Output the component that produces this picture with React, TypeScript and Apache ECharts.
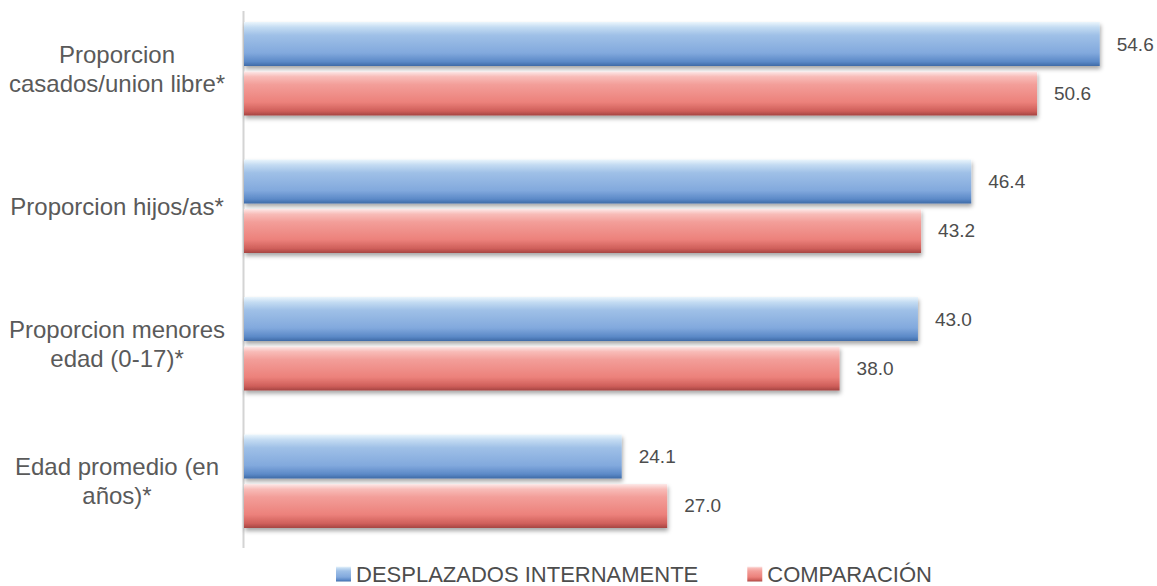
import React, { useEffect, useRef } from "react";
import * as echarts from "echarts";

const categories = [
  "Proporcion\ncasados/union libre*",
  "Proporcion hijos/as*",
  "Proporcion menores\nedad (0-17)*",
  "Edad promedio (en\naños)*",
];
const seriesNames = ["DESPLAZADOS INTERNAMENTE", "COMPARACIÓN"];
const desplazados = [54.6, 46.4, 43.0, 24.1];
const comparacion = [50.6, 43.2, 38.0, 27.0];

const FONT = "'Liberation Sans', Arial, sans-serif";

const blueGrad = new echarts.graphic.LinearGradient(0, 0, 0, 1, [
  { offset: 0, color: "#eaf5fc" },
  { offset: 0.12, color: "#c3dbf2" },
  { offset: 0.3, color: "#9fc0e7" },
  { offset: 0.7, color: "#82a9dd" },
  { offset: 0.9, color: "#5b89c7" },
  { offset: 1, color: "#3e6aa6" },
]);
const redGrad = new echarts.graphic.LinearGradient(0, 0, 0, 1, [
  { offset: 0, color: "#fdeaea" },
  { offset: 0.12, color: "#f8bcb8" },
  { offset: 0.3, color: "#f39e99" },
  { offset: 0.7, color: "#ec817b" },
  { offset: 0.9, color: "#cf5f5a" },
  { offset: 1, color: "#a64542" },
]);

export default function App() {
  const ref = useRef<HTMLDivElement>(null);
  useEffect(() => {
    if (!ref.current) return;
    const chart = echarts.init(ref.current, null, { renderer: "svg" });
    const barStyle = (c: any) => ({
      color: c,
      shadowColor: "rgba(0,0,0,0.35)",
      shadowBlur: 4,
      shadowOffsetX: 1,
      shadowOffsetY: 3,
    });
    const label = {
      show: true,
      position: "right",
      distance: 17,
      fontFamily: FONT,
      fontSize: 19,
      color: "#4d4d4d",
      formatter: (p: any) => Number(p.value).toFixed(1),
    };
    chart.setOption({
      animation: false,
      backgroundColor: "#ffffff",
      grid: { left: 244, width: 862, top: -3, height: 553, containLabel: false },
      xAxis: { type: "value", min: 0, max: 55, show: false },
      yAxis: {
        type: "category",
        inverse: true,
        data: categories,
        axisLine: { show: false },
        axisTick: { show: false },
        splitLine: { show: false },
        axisLabel: {
          align: "center",
          margin: 127,
          fontFamily: FONT,
          fontSize: 24,
          lineHeight: 29,
          color: "#5a5a5a",
        },
      },
      legend: {
        left: 336,
        top: 563,
        padding: 0,
        itemWidth: 15,
        itemHeight: 15,
        itemGap: 49,
        icon: "rect",
        textStyle: {
          fontFamily: FONT,
          fontSize: 22,
          lineHeight: 22,
          color: "#4d4d4d",
        },
        data: seriesNames,
      },
      graphic: [
        {
          type: "line",
          shape: { x1: 243.5, y1: 11, x2: 243.5, y2: 548 },
          style: { stroke: "#d4d4d4", lineWidth: 2 },
          z: 1,
        },
      ],
      series: [
        {
          name: seriesNames[0],
          type: "bar",
          data: desplazados,
          barWidth: 44,
          barGap: "12%",
          itemStyle: barStyle(blueGrad),
          label,
          z: 3,
        },
        {
          name: seriesNames[1],
          type: "bar",
          data: comparacion,
          barWidth: 44,
          barGap: "12%",
          itemStyle: barStyle(redGrad),
          label,
          z: 3,
        },
      ],
    });
    return () => chart.dispose();
  }, []);
  return (
    <div
      ref={ref}
      style={{ position: "fixed", left: 0, top: 0, width: 1157, height: 586 }}
    />
  );
}
